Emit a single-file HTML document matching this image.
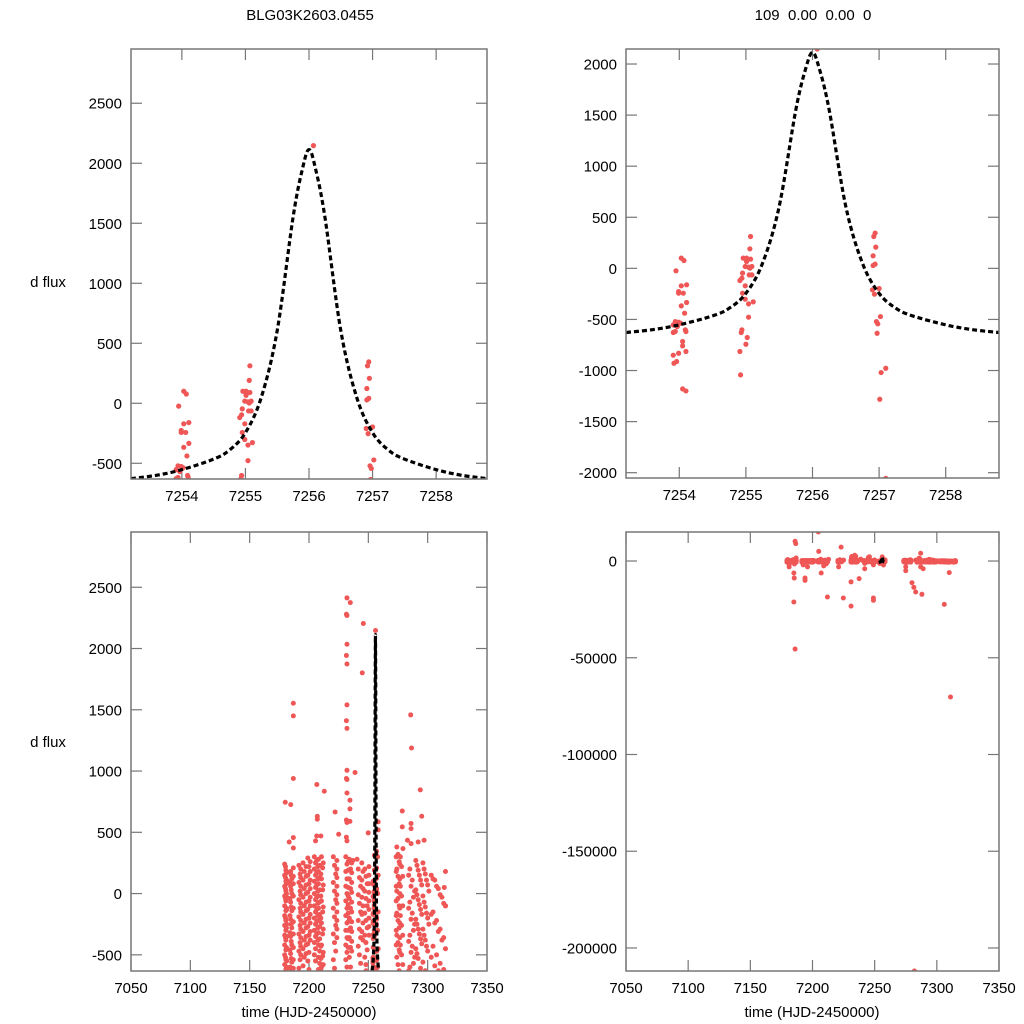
<!DOCTYPE html>
<html><head><meta charset="utf-8"><style>
html,body{margin:0;padding:0;background:#fff;overflow:hidden;width:1024px;height:1024px;}
svg{display:block;font-family:"Liberation Sans",sans-serif;}
</style></head><body>
<svg id="chart" width="1024" height="1024" viewBox="0 0 1024 1024" xmlns="http://www.w3.org/2000/svg">
<rect width="1024" height="1024" fill="#fff"/>
<text x="310" y="20" font-size="15" text-anchor="middle">BLG03K2603.0455</text>
<text x="813" y="20" font-size="15" text-anchor="middle" xml:space="preserve">109  0.00  0.00  0</text>
<text x="48" y="287" font-size="15" text-anchor="middle">d flux</text>
<text x="48" y="747" font-size="15" text-anchor="middle">d flux</text>
<text x="309" y="1017" font-size="15" text-anchor="middle">time (HJD-2450000)</text>
<text x="812" y="1017" font-size="15" text-anchor="middle">time (HJD-2450000)</text>
</svg>
<script>
// model curve (offsets from peak time) and flux
const modelT0 = 7256.0;
const curveDt = [-2.8,-2.4,-2.0,-1.5,-1.25,-1.0,-0.75,-0.5,-0.25,-0.1,0,0.1,0.25,0.5,0.75,1.0,1.25,1.5,2.0,2.4,2.8];
const curveF  = [-628,-600,-553,-465,-390,-245,50,606,1553,1960,2114,1960,1553,606,50,-245,-390,-465,-553,-600,-628];

// observations near peak
const zoomT = [7253.95,7254.03,7254.07,7254.03,7254.11,7253.99,7254.06,7253.99,7254.03,7254.11,7254.08,7253.94,7253.99,7254.02,7253.91,7253.94,7254.10,7254.09,7253.91,7254.05,7254.05,7254.10,7253.99,7253.91,7253.96,7253.92,7254.05,7254.10,7253.97,
7255.07,7255.06,7254.96,7255.01,7255.07,7254.99,7255.04,7255.09,7254.95,7255.05,7255.09,7254.91,7254.94,7254.99,7254.95,7254.99,7255.11,7255.04,7255.04,7254.94,7254.93,7255.02,7255.00,7254.91,7254.92,7255.01,7255.06,
7256.07,
7256.94,7256.92,7256.95,7256.91,7256.94,7256.91,7256.90,7256.93,7257.00,7257.02,7256.96,7256.98,7256.97,7257.10,7257.03,7257.01,7257.10];
const zoomF = [-24,100,77,-171,-161,-243,-243,-227,-367,-334,-439,-521,-527,-537,-553,-618,-618,-602,-628,-716,-759,-814,-831,-850,-912,-929,-1180,-1200,-570,
312,191,100,100,90,18,12,18,-47,-64,-64,-119,-96,-171,-243,-302,-328,-348,-478,-602,-628,-677,-743,-814,-1043,67,2,
2147,
345,312,208,123,41,28,-210,-253,-197,-472,-521,-543,-635,-978,-1020,-1281,-2055];

// full season observations
const obsT = [7180,7179.5,7180.5,7179.5,7180.5,7179.5,7180.5,7179.5,7180.5,7179.5,7180.5,7179.5,7180.5,7179.5,7180.5,7179.5,7180.5,7179.5,7180.5,7179.5,7180.5,7179.5,7180.5,7181.2,7181.2,7181.2,7181.2,7181.2,7181.2,7181.2,7181.2,7181.2,7181.2,7181.2,
7184.6,7183.3,7184.5,7185.5,7184.5,7185.5,7184.5,7185.5,7184.5,7185.5,7184.5,7185.5,7184.5,7185.5,7184.5,7185.5,7185.3,7185,7186,7185,
7186.8,7186.8,7186.8,7186.8,7186.8,7186.8,7186.8,7186.8,7186.8,7186.8,7186.8,7186.8,7186.8,7186.8,7186.8,7186,7186.5,
7191.5,7192.5,7191.5,7192.5,7191.5,7192.5,7191.5,7192.5,7191.5,7192.5,7191.5,7192.5,7191.5,7192.5,
7195,7196,7195,7196,7195,7196,7195,7196,7195,7196,7195,7196,7195,7194,7194,7196,
7199,7200,7199,7200,7199,7200,7199,7200,7199,7200,7199,7200,7199,7200,
7207,7207,7206.6,7205.5,7206.5,7204.5,7205.5,7204.5,7205.5,7204.5,7205.5,7204.5,7205.5,7204.5,7205.5,7204.5,7205.5,7204.5,7205.5,7204.5,7205.5,7204.5,7205.5,7204.7,7205,7207,
7208,7209,7208,7209,7208,7209,7208,7209,7208,7209,7208,7209,7208,7209,7208,7209,7208,7209,7208,7209,
7212.9,7210,7210.5,7211.5,7210.5,7211.5,7210.5,7211.5,7210.5,7211.5,7210.5,7211.5,7210.5,7212,7211,
7222,7225,7220.5,7221.5,7222.5,7220.5,7221.5,7222.5,7220.5,7221.5,7222.5,7220.5,7221.5,7222.5,7220.5,7221.5,7223,7224.8,7221,
7232,7231.5,7232,7232,7231.5,7232,7232,7231.5,7232,7232,7231.5,7232,7232,7231.5,7232,7231.5,7232,7231,7232,7231,7232,7231,7232,7231,7232,7231,7232,7231,7232,7231,7232,7231,7232,7231,7231,
7234.8,7234.5,7234.5,7234.5,7234,7235,7234,7235,7234,7235,7234,7235,7234,7235,7234,7235,7238.8,7237.5,7234,7237,
7244.9,7245.8,7240.5,7241.5,7242.5,7243.5,7241.5,7242.5,7243.5,7241.5,7242.5,7243.5,7241.5,7242.5,7243.5,7242,7242,
7249.9,7247,7248,7249,7247,7248,7249,7247,7248,7249,7247,7248,7249,7247,7248,7249,7249,7249,7248,
7258.3,7258.3,7257.8,7258.3,7257.8,7258.3,7257.8,7258.3,7257.8,
7278.6,7278.6,7274,7275,7276,7274,7275,7276,7274,7275,7276,7274,7275,7276,7274,7275,7276,7274,7275,7276,7275,7275,
7279.2,7277,7278,7279,7277,7278,7279,7277,7278,7279,7277,7278,7279,7280,7281.5,7282,
7285.7,7286.4,7286,7286,7286,7283,7284,7286,7288,7284,7286,7288,7284,7286,7288,7284,7283,7288,7287,
7293.8,7295,7292,7297,7290,7292,7294,7290,7292,7294,7290,7292,7294,7290,7292,7294,
7296,7298,7300,7296,7298,7300,7296,7298,7300,7296,7298,
7303,7306,7309,7312,7315,7303,7306,7309,7312,7315,7303,7306,7309,7315,7314,7315,7306,7311,7310];
const obsF = [745,240,190,150,100,60,20,-20,-60,-100,-140,-180,-220,-260,-300,-340,-380,-420,-460,-500,-540,-580,-620,170,110,-30,-130,-250,-350,-450,-550,-900,-1800,-3000,
726,421,180,120,60,0,-70,-140,-210,-280,-350,-420,-490,-560,-620,-1500,-8800,-21200,-45500,-6200,
1553,1450,939,457,372,210,140,80,-20,-120,-230,-330,-440,-540,-610,10200,9000,
230,160,90,20,-50,-120,-190,-260,-330,-400,-470,-540,-610,-2000,
250,180,110,40,-30,-100,-170,-240,-310,-380,-450,-520,-590,-8800,-10000,-3000,
290,220,150,80,10,-60,-130,-200,-270,-340,-410,-480,-550,-620,
630,607,890,430,470,300,250,200,150,100,50,0,-50,-100,-150,-200,-250,-300,-350,-400,-450,-500,-550,15000,5000,-6200,
280,230,180,130,80,30,-20,-70,-120,-170,-220,-270,-320,-370,-420,-470,-520,-570,-620,-2500,
835,470,300,210,120,30,-60,-150,-240,-330,-420,-510,-600,-18600,-1500,
666,484,300,230,160,90,20,-50,-120,-190,-260,-330,-400,-470,-540,-610,7200,-19100,-3000,
2413,2280,2270,2035,1943,1874,1540,1411,1348,1006,939,931,821,600,580,460,430,300,240,180,120,60,0,-60,-120,-180,-240,-300,-360,-420,-480,-540,-600,-23300,-10800,
2375,762,691,589,280,200,120,40,-40,-120,-200,-280,-360,-440,-520,-600,988,-9100,3000,270,
1801,2204,280,200,130,60,-10,-80,-150,-220,-290,-360,-430,-500,-570,-1200,-4000,
495,200,140,80,20,-40,-100,-160,-220,-280,-340,-400,-460,-520,-580,-19100,-20300,-2000,-630,
585,520,300,150,0,-150,-300,-450,-600,
674,544,380,320,260,200,140,80,20,-40,-100,-160,-220,-280,-340,-400,-460,-520,-580,-630,-3000,-5000,
367,300,220,140,60,-20,-100,-180,-260,-340,-420,-500,-580,-11200,-13600,-211900,
1458,1188,572,530,408,435,150,60,-30,-120,-210,-300,-390,-480,-570,-630,-16000,-17200,4000,
846,631,421,435,270,190,110,30,-50,-130,-210,-290,-370,-450,-530,-610,
250,160,70,-20,-110,-200,-290,-380,-470,-560,-630,
150,110,40,-30,-100,-170,-240,-310,-380,-450,-520,-590,-630,180,50,-100,-22400,-70300,-6000];

// additional observations filling the dense nightly stripes
const extraT = [7180.2,7181,7180.2,7181,7180.2,7181,7180.2,7181,7180.2,7181,7180.2,7181,7180.2,7181,
7185,7184,7185,7184,7185,7184,7185,7184,7185,7184,7185,7184,
7193,7193,7193,7193,7193,7193,7193,7193,7193,7193,7193,
7197.5,7197.5,7197.5,7197.5,7197.5,7197.5,7197.5,7197.5,7197.5,7197.5,7197.5,
7201,7201,7201,7201,7201,7201,7201,7201,7201,7201,
7206.5,7207.5,7206.5,7207.5,7206.5,7207.5,7206.5,7207.5,7206.5,7207.5,7206.5,7207.5,7206.5,7207.5,
7210,7212,7210,7212,7210,7212,7210,7212,7210,7212,7210,7212,
7223.5,7223.5,7223.5,7223.5,7223.5,7223.5,7223.5,7223.5,7223.5,7223.5,
7233,7233,7233,7233,7233,7233,7233,7233,7233,7233,7233,
7236,7236,7236,7236,7236,7236,7236,7236,7236,7236,
7244.5,7245.5,7244.5,7245.5,7244.5,7245.5,7244.5,7245.5,7244.5,7245.5,
7250.5,7250.5,7250.5,7250.5,7250.5,7250.5,7250.5,7250.5,7250.5,
7273.5,7276.5,7273.5,7276.5,7273.5,7276.5,7273.5,7276.5,7273.5,7276.5,7273.5,7276.5,7273.5,7276.5,
7285,7287,7289,7285,7287,7289,7285,7287,7289,7285,7287,7289,
7291,7293,7295,7291,7293,7295,7291,7293,7295,7291,
7297,7299,7301,7297,7299,7301,7297,7299,
7304.5,7307.5,7310.5,7313.5,7304.5,7307.5,7310.5,7313.5,7304.5,7307.5,7310.5,7313.5];
const extraF = [220,170,130,80,40,0,-40,-120,-200,-280,-360,-440,-520,-600,
150,90,30,-40,-110,-180,-250,-320,-390,-460,-530,-600,
200,130,60,-10,-80,-150,-220,-290,-360,-430,-500,
220,140,70,0,-70,-140,-210,-280,-350,-420,-490,
260,180,110,40,-30,-100,-170,-240,-310,-380,
270,220,170,120,70,20,-30,-80,-130,-180,-230,-280,-330,-380,
-430,-480,-530,-580,-620,250,160,70,-20,-110,-200,-290,
270,200,130,60,-10,-80,-150,-220,-290,-360,
260,190,120,50,-20,-90,-160,-230,-300,-370,-440,
250,170,90,10,-70,-150,-230,-310,-390,-470,
250,180,110,40,-30,-100,-170,-240,-310,-380,
220,150,80,10,-60,-130,-200,-270,-340,
300,240,180,120,60,0,-60,-120,-180,-240,-300,-360,-420,-480,
200,110,20,-70,-160,-250,-340,-430,-520,-600,-3000,-4000,
230,150,70,-10,-90,-170,-250,-330,-410,-490,
200,110,20,-70,-160,-250,-340,-430,
120,60,-10,-80,-150,-220,-290,-360,-430,-500,-570,-620];

// tick values
const ticksXTop = [7254,7255,7256,7257,7258];
const ticksXBottom = [7050,7100,7150,7200,7250,7300,7350];
const ticksY1 = [-500,0,500,1000,1500,2000,2500];
const ticksY2 = [-2000,-1500,-1000,-500,0,500,1000,1500,2000];
const ticksY4 = [0,-50000,-100000,-150000,-200000];

const NS = 'http://www.w3.org/2000/svg';
const svg = document.getElementById('chart');
function mk(tag, attrs, parent){
  const e = document.createElementNS(NS, tag);
  for (const k in attrs) e.setAttribute(k, attrs[k]);
  (parent||svg).appendChild(e);
  return e;
}
const panels = [
  {id:'top-left', x0:131,x1:487,y0:49,y1:479, xd:[7253.2,7258.8], yd:[-631,2952], xt:ticksXTop, yt:ticksY1, data:'zoom', r:2.6},
  {id:'top-right', x0:626,x1:999,y0:49,y1:478, xd:[7253.2,7258.8], yd:[-2052,2147], xt:ticksXTop, yt:ticksY2, data:'zoom', r:2.6},
  {id:'bottom-left', x0:131,x1:487,y0:532,y1:971, xd:[7050,7350], yd:[-632,2951], xt:ticksXBottom, yt:ticksY1, data:'all', r:2.5},
  {id:'bottom-right', x0:626,x1:999,y0:532,y1:971, xd:[7050,7350], yd:[-211900,15000], xt:ticksXBottom, yt:ticksY4, data:'all', r:2.5}
];
function smoothPath(pts){
  let d = 'M'+pts[0][0].toFixed(2)+','+pts[0][1].toFixed(2);
  for (let i=0;i<pts.length-1;i++){
    const p0=pts[Math.max(0,i-1)], p1=pts[i], p2=pts[i+1], p3=pts[Math.min(pts.length-1,i+2)];
    const c1=[p1[0]+(p2[0]-p0[0])/6, p1[1]+(p2[1]-p0[1])/6];
    const c2=[p2[0]-(p3[0]-p1[0])/6, p2[1]-(p3[1]-p1[1])/6];
    d += 'C'+c1[0].toFixed(2)+','+c1[1].toFixed(2)+' '+c2[0].toFixed(2)+','+c2[1].toFixed(2)+' '+p2[0].toFixed(2)+','+p2[1].toFixed(2);
  }
  return d;
}
panels.forEach((p, idx) => {
  const sx = v => p.x0 + (v - p.xd[0]) / (p.xd[1]-p.xd[0]) * (p.x1-p.x0);
  const sy = v => p.y1 - (v - p.yd[0]) / (p.yd[1]-p.yd[0]) * (p.y1-p.y0);
  const g = mk('g', {});
  
  
  const cp = mk('clipPath', {id:'clip'+idx}, g);
  mk('rect', {x:p.x0, y:p.y0, width:p.x1-p.x0, height:p.y1-p.y0}, cp);
  const tg = mk('g', {stroke:'#777', 'stroke-width':1.2}, g);
  
  
  p.xt.forEach(v => {
    const x = sx(v);
    mk('line', {x1:x, x2:x, y1:p.y1, y2:p.y1-11}, tg);
    mk('line', {x1:x, x2:x, y1:p.y0, y2:p.y0+11}, tg);
    const t = mk('text', {x:x, y:p.y1+22, 'font-size':15, 'text-anchor':'middle', fill:'#000', stroke:'none'}, g);
    
    
    t.textContent = v;
  });
  p.yt.forEach(v => {
    const y = sy(v);
    mk('line', {x1:p.x0, x2:p.x0+11, y1:y, y2:y}, tg);
    mk('line', {x1:p.x1, x2:p.x1-11, y1:y, y2:y}, tg);
    const t = mk('text', {x:p.x0-9, y:y+5.5, 'font-size':15, 'text-anchor':'end', fill:'#000'}, g);
    
    
    t.textContent = v;
  });
  const dg = mk('g', {'clip-path':'url(#clip'+idx+')', fill:'#ef5656'}, g);
  
  
  const T = p.data==='zoom' ? zoomT : obsT.concat(extraT, zoomT);
  const F = p.data==='zoom' ? zoomF : obsF.concat(extraF, zoomF);
  for (let i=0;i<T.length;i++){
    const c = mk('circle', {cx:sx(T[i]).toFixed(2), cy:sy(F[i]).toFixed(2), r:p.r}, dg);
    
    
  }
  const pts = curveDt.map((d,i) => [sx(modelT0+d), sy(curveF[i])]);
  const ml = mk('path', {d:smoothPath(pts), fill:'none', stroke:'#000', 'stroke-width':3.2, 'stroke-dasharray':'5 3', 'clip-path':'url(#clip'+idx+')'}, g);
  
  
  const fr = mk('rect', {x:p.x0, y:p.y0, width:p.x1-p.x0, height:p.y1-p.y0, fill:'none', stroke:'#777', 'stroke-width':1.5}, g);
  
  
});
</script>
</body></html>
